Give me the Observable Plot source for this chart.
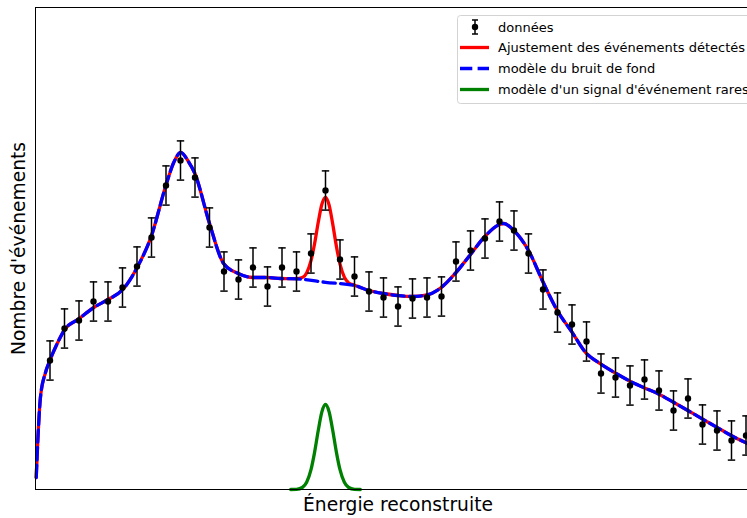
<!DOCTYPE html>
<html><head><meta charset="utf-8">
<script src="https://cdn.jsdelivr.net/npm/d3@7"></script>
<script src="https://cdn.jsdelivr.net/npm/@observablehq/plot@0.6"></script>
<style>
html,body{margin:0;padding:0;overflow:hidden;background:#fff;}
#wrap{position:relative;width:747px;height:518px;overflow:hidden;}
#wrap svg{max-width:none !important;}
#legend{position:absolute;left:457px;top:15px;}
</style></head><body><div id="wrap"></div>
<script>
// Data points (energy, counts)
const pointEnergy = [1,2,3,4,5,6,7,8,9,10,11,12,13,14,15,16,17,18,19,20,21,22,23,24,25,26,27,28,29,30,31,32,33,34,35,36,37,38,39,40,41,42,43,44,45,46,47,48,49];
const pointCount = [64.5,80.5,84.5,94,94,101,111.5,126,152,164.5,156,131,109,105,111,101.5,111,109,118,149.5,115,106.5,99,96,91.5,95.5,96,96.5,114,119.5,125.5,134,129.5,118,100,88.5,82.5,74,58,56,52,55,49.5,39.5,45.5,32.5,29.5,24.5,27];
const pointError = 9.8;

// Background model
const bgEnergy = [0.05,0.16,0.34,0.69,0.99,1.5,2.02,2.99,4.02,5.01,6.02,7.01,7.98,8.99,9.54,10.02,10.5,10.99,12.0,12.97,13.98,15.01,15.98,16.9,17.98,20.0,22.02,22.99,24.0,25.01,25.98,27.01,27.98,29.01,30.0,30.99,32.0,32.3,32.99,34.0,35.01,35.98,37.01,37.93,38.97,40.0,40.99,42.0,42.97,44.0,44.99,45.98,46.97,47.98,49.1,50];
const bgCount = [6,24.5,46,58.5,64.5,73,80,85.3,91,95,100,111,126.5,152,163.6,168.6,164.5,158,133,113,108,106,106,105.5,105.3,103.6,102,99.5,98,97,96.5,97.3,101,108.6,117.5,126.5,132.5,133,129.5,119.5,103.6,89.5,78.6,68.6,62.8,58.2,54.2,50.8,47.8,43.6,39.5,35.3,31.2,27,23,20];

// Rare-event signal model (green)
const sigEnergy = [17.6,18.0,18.4,18.7,19.0,19.25,19.5,19.75,20.0,20.25,20.5,20.75,21.0,21.3,21.6,22.0,22.4];
const sigCount = [0,0.1,1.0,3.6,9.9,18.7,29.5,38.8,42.5,38.8,29.5,18.7,9.9,3.6,1.0,0.1,0];

// Total fit (red) in the signal region
const fitPeakEnergy = [17.6,18.0,18.4,18.7,19.0,19.25,19.5,19.75,20.0,20.25,20.5,20.75,21.0,21.3,21.6,22.0,22.4];
const fitPeakCount = [105.4,105.4,106.0,108.3,114.4,123.0,133.6,142.6,146.1,142.2,132.7,121.7,112.7,106.2,103.3,102.1,101.0];

const xLabel = "Énergie reconstruite";
const yLabel = "Nombre d'événements";
const legendLabels = ["données","Ajustement des événements détectés","modèle du bruit de fond","modèle d'un signal d'événement rares"];

const points = pointEnergy.map((e,i)=>({e, c: pointCount[i], lo: pointCount[i]-pointError, hi: pointCount[i]+pointError}));
const bg = bgEnergy.map((e,i)=>({e, c: bgCount[i]}));
const sig = sigEnergy.map((e,i)=>({e, c: sigCount[i]}));
const peak = fitPeakEnergy.map((e,i)=>({e, c: fitPeakCount[i]}));
const fit = [...bg.filter(d=>d.e<fitPeakEnergy[0]), ...peak, ...bg.filter(d=>d.e>fitPeakEnergy[fitPeakEnergy.length-1])];

const cap = {draw(ctx, size){const w=Math.sqrt(size/Math.PI); ctx.moveTo(-w,0); ctx.lineTo(w,0);}};
const font = "DejaVu Sans";

const chart = Plot.plot({
  width: 760, height: 518,
  marginLeft: 35, marginRight: 0, marginTop: 7, marginBottom: 29,
  x: {domain: [0, 50], axis: null},
  y: {domain: [0, 241], axis: null},
  style: {fontFamily: font, background: "white", overflow: "visible", maxWidth: "none"},
  marks: [
    Plot.line(fit, {x: "e", y: "c", stroke: "red", strokeWidth: 3.3, curve: "monotone-x"}),
    Plot.line(sig, {x: "e", y: "c", stroke: "green", strokeWidth: 3.3, curve: "monotone-x"}),
    Plot.line(bg, {x: "e", y: "c", stroke: "blue", strokeWidth: 3.3, strokeDasharray: "12.3,5.3", curve: "monotone-x"}),
    Plot.ruleX(points, {x: "e", y1: "lo", y2: "hi", stroke: "black", strokeWidth: 1.5}),
    Plot.dot(points, {x: "e", y: "lo", symbol: cap, r: 3.7, stroke: "black", fill: "none", strokeWidth: 1.5}),
    Plot.dot(points, {x: "e", y: "hi", symbol: cap, r: 3.7, stroke: "black", fill: "none", strokeWidth: 1.5}),
    Plot.dot(points, {x: "e", y: "c", r: 3.2, fill: "black", stroke: "none"}),
    Plot.frame({stroke: "black", strokeWidth: 1}),
    Plot.text([xLabel], {text: d=>d, frameAnchor: "bottom", dy: 15.7, fontSize: 18.7, fill: "black", textAnchor: "middle", lineAnchor: "middle"}),
    Plot.text([yLabel], {text: d=>d, frameAnchor: "left", dx: -16, rotate: -90, fontSize: 18.7, fill: "black", textAnchor: "middle", lineAnchor: "middle"})
  ]
});
const wrap = document.getElementById("wrap");
wrap.appendChild(chart);

// Legend
const lg = d3.create("svg").attr("id","legend").attr("width", 310).attr("height", 90)
  .style("font-family", font).style("font-size", "13px");
lg.append("rect").attr("x",0.5).attr("y",0.5).attr("width",305).attr("height",88).attr("rx",3)
  .attr("fill","white").attr("fill-opacity",0.8).attr("stroke","#d3d3d3");
const rowY = [12, 32.5, 53.5, 74.5];
const eb = lg.append("g");
eb.append("line").attr("x1",18).attr("x2",18).attr("y1",rowY[0]-7).attr("y2",rowY[0]+7).attr("stroke","black").attr("stroke-width",1.5);
eb.append("line").attr("x1",15).attr("x2",21).attr("y1",rowY[0]-7).attr("y2",rowY[0]-7).attr("stroke","black").attr("stroke-width",1.5);
eb.append("line").attr("x1",15).attr("x2",21).attr("y1",rowY[0]+7).attr("y2",rowY[0]+7).attr("stroke","black").attr("stroke-width",1.5);
eb.append("circle").attr("cx",18).attr("cy",rowY[0]).attr("r",3.2).attr("fill","black");
lg.append("line").attr("x1",3).attr("x2",32).attr("y1",rowY[1]).attr("y2",rowY[1]).attr("stroke","red").attr("stroke-width",3.3);
lg.append("line").attr("x1",3).attr("x2",32).attr("y1",rowY[2]).attr("y2",rowY[2]).attr("stroke","blue").attr("stroke-width",3.3).attr("stroke-dasharray","12.3,5.3");
lg.append("line").attr("x1",3).attr("x2",32).attr("y1",rowY[3]).attr("y2",rowY[3]).attr("stroke","green").attr("stroke-width",3.3);
legendLabels.forEach((t,i)=>{
  lg.append("text").attr("x",41).attr("y",rowY[i]).attr("dy","0.35em").attr("fill","black").text(t);
});
wrap.appendChild(lg.node());
</script></body></html>
